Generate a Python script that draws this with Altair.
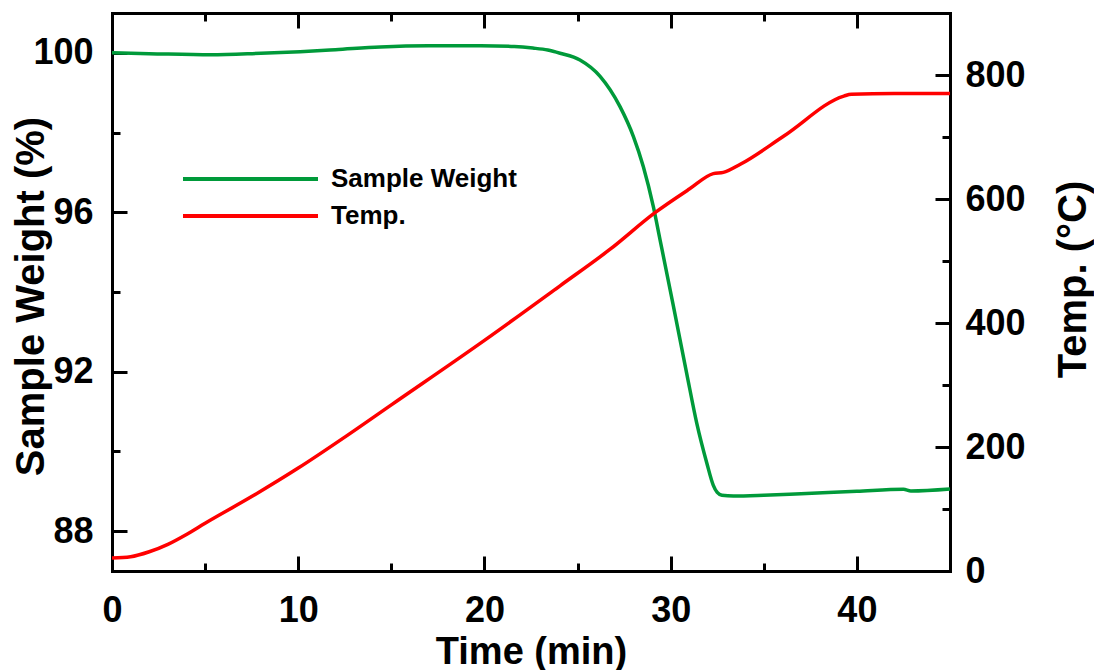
import altair as alt
import pandas as pd

# ---- data ----
w_time = [0, 2, 5.3, 8, 10.1, 12, 14.4, 17, 19.8, 21.6, 22.6, 23.4, 24.06, 25.13, 26.21,
          27.28, 28.0, 28.53, 29.07, 29.43, 30.15, 30.86, 31.4, 31.94, 32.29, 32.5, 32.75,
          33.37, 35, 37, 40, 42.5, 42.9, 45]
w_value = [100.0, 99.98, 99.95, 99.99, 100.03, 100.08, 100.15, 100.18, 100.18, 100.16,
           100.12, 100.07, 99.99, 99.82, 99.41, 98.65, 97.9, 97.15, 96.14, 95.31, 93.64,
           91.96, 90.71, 89.71, 89.15, 88.97, 88.9, 88.88, 88.9, 88.94, 89.0, 89.05,
           89.01, 89.06]

t_time = [0, 1, 2, 3, 4, 5, 7.5, 10, 12.5, 15, 20, 24.06, 26.75, 29.16, 31, 32.29, 32.83,
          33.74, 36.1, 39.3, 39.7, 42, 45]
t_value = [21, 23, 31, 43, 59, 77, 120, 166, 216, 268, 372, 460, 519, 578, 616, 641, 643,
           656, 702, 766, 769, 770, 770]

series_names = ["Sample Weight", "Temp."]
series_colors = ["#009a3a", "#ff0000"]

x_major = [0, 10, 20, 30, 40]
x_minor = [5, 15, 25, 35]
w_major = [88, 92, 96, 100]
w_minor = [90, 94, 98]
t_major = [0, 200, 400, 600, 800]
t_minor = [100, 300, 500, 700]

wdf = pd.DataFrame({"time": w_time, "value": w_value, "series": series_names[0]})
tdf = pd.DataFrame({"time": t_time, "value": t_value, "series": series_names[1]})

FONT = "Liberation Sans"
xscale = alt.Scale(domain=[0, 45], nice=False, zero=False)
wscale = alt.Scale(domain=[87, 101], nice=False, zero=False)
tscale = alt.Scale(domain=[0, 900], nice=False, zero=False)
color = alt.Color(
    "series:N",
    scale=alt.Scale(domain=series_names, range=series_colors),
    legend=alt.Legend(
        title=None, orient="none", legendX=69, legendY=151,
        symbolType="stroke", symbolSize=18225, symbolStrokeWidth=4,
        labelFont=FONT, labelFontWeight="bold", labelFontSize=26, labelColor="black",
        labelOffset=11, labelLimit=0, clipHeight=30, rowPadding=7, padding=0,
    ),
)

common = dict(domainColor="black", domainWidth=3, domainCap="square",
              tickColor="black", tickWidth=3, labelFlush=False, labelOverlap=False,
              grid=False)

def major_axis(orient, values, labels, pad, **kw):
    opts = dict(orient=orient, values=values, labels=labels,
                tickSize=alt.ExprRef(expr="-15"), labelPadding=pad,
                labelFont=FONT, labelFontWeight="bold", labelFontSize=36,
                labelColor="black", titleFont=FONT, titleFontWeight="bold",
                titleFontSize=40, titleColor="black")
    opts.update(common)
    opts.update(kw)
    return alt.Axis(**opts)

def minor_axis(orient, values):
    return alt.Axis(orient=orient, values=values, labels=False,
                    tickSize=alt.ExprRef(expr="-8"), **common)

l1 = alt.Chart(wdf).mark_line(strokeWidth=3.5, interpolate="monotone").encode(
    x=alt.X("time:Q", scale=xscale, title="Time (min)",
            axis=major_axis("bottom", x_major, True, 37, titleX=419, titleY=92,
                            titleBaseline="alphabetic", titleFontSize=38)),
    y=alt.Y("value:Q", scale=wscale, title="Sample Weight (%)",
            axis=major_axis("left", w_major, True, 34, titleX=-69, titleY=283,
                            titleAngle=270, titleBaseline="alphabetic")),
    color=color,
)
l2 = alt.Chart(tdf).mark_line(strokeWidth=3.5, interpolate="monotone").encode(
    x=alt.X("time:Q", scale=xscale, title=None,
            axis=major_axis("top", x_major, False, 0)),
    y=alt.Y("value:Q", scale=tscale, title="Temp. (°C)",
            axis=major_axis("right", t_major, True, 30, titleX=135, titleY=266,
                            titleAngle=270, titleBaseline="alphabetic")),
    color=color,
)
l3 = alt.Chart(wdf).mark_line(strokeOpacity=0).encode(
    x=alt.X("time:Q", scale=xscale, title=None, axis=minor_axis("bottom", x_minor)),
    y=alt.Y("value:Q", scale=wscale, title=None, axis=minor_axis("left", w_minor)),
)
l4 = alt.Chart(tdf).mark_line(strokeOpacity=0).encode(
    x=alt.X("time:Q", scale=xscale, title=None, axis=minor_axis("top", x_minor)),
    y=alt.Y("value:Q", scale=tscale, title=None, axis=minor_axis("right", t_minor)),
)

chart = (
    alt.layer(l1, l2, l3, l4)
    .resolve_scale(y="independent")
    .resolve_axis(x="independent", y="independent")
    .properties(width=838, height=558,
                autosize=alt.AutoSizeParams(type="none"),
                padding={"left": 112, "top": 13, "right": 144, "bottom": 99},
                background="white")
    .configure_view(stroke=None)
)

chart.save("out.html", embed_options={"renderer": "svg", "actions": False})
